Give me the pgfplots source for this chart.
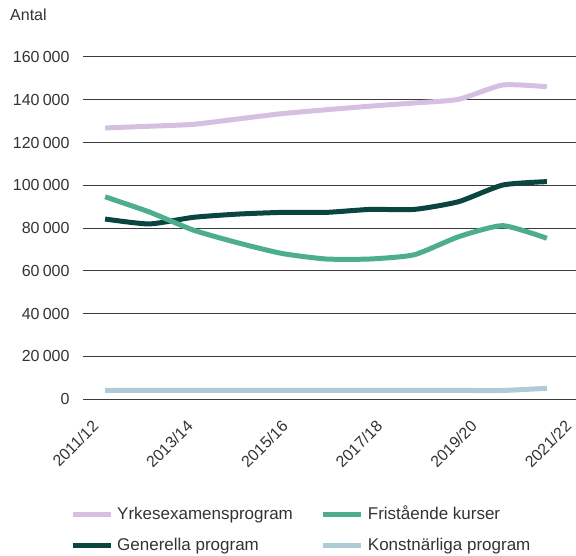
\documentclass[border=0pt]{standalone}
\usepackage{fontspec}
\setmainfont{Liberation Sans}
\usepackage{pgfplots}
\pgfplotsset{compat=1.18}

\definecolor{yrke}{HTML}{D5C0E1}
\definecolor{frist}{HTML}{4DAE8C}
\definecolor{gener}{HTML}{0A4540}
\definecolor{konst}{HTML}{AECCD7}
\definecolor{gridc}{HTML}{3C3C3C}
\definecolor{txt}{HTML}{333333}

\newcommand{\tickfont}{\fontsize{16bp}{19bp}\selectfont}
\newcommand{\legfont}{\fontsize{17bp}{20bp}\selectfont}
\newcommand{\ts}{\hspace{0.2em}}

\begin{document}
\begin{tikzpicture}
\begin{axis}[
    scale only axis,
    width=493bp, height=342bp,
    xmin=-0.5, xmax=10.66,
    ymin=0, ymax=160000,
    axis line style={draw=none},
    major tick length=0pt,
    ymajorgrids=true,
    grid style={gridc, line width=1bp},
    scaled y ticks=false,
    ytick={0,20000,40000,60000,80000,100000,120000,140000,160000},
    yticklabels={0,20\ts000,40\ts000,60\ts000,80\ts000,100\ts000,120\ts000,140\ts000,160\ts000},
    yticklabel style={font=\tickfont, text=txt, xshift=-10bp},
    xtick={-0.23,1.91,4.06,6.20,8.34,10.48},
    xticklabels={2011/12,2013/14,2015/16,2017/18,2019/20,2021/22},
    xticklabel style={font=\tickfont, text=txt, xshift=-20bp, yshift=-4bp,
        rotate=45, anchor=east, inner sep=0pt, yshift=-29bp},
    legend columns=2,
    transpose legend,
    legend cell align=left,
    legend style={draw=none, fill=none, inner sep=0pt, outer sep=0pt,
        font=\legfont, text=txt,
        at={(-0.026,-0.305)}, anchor=north west,
        row sep=8bp,
        nodes={inner sep=4bp, text height=12bp, text depth=3bp},
        /tikz/every even column/.append style={column sep=24bp}},
    legend image code/.code={\draw[#1, line width=5bp] (0bp,0bp) -- (38bp,0bp);},
    every axis plot/.append style={line width=5bp, smooth, tension=0.35, mark=none},
    clip=false,
]

% Yrkesexamensprogram
\addplot[yrke] coordinates {
    (0,126800)(1,127600)(2,128500)(3,131000)(4,133500)(5,135300)
    (6,137000)(7,138500)(8,140200)(9,146900)(10,146100)
};
% Generella program
\addplot[gener] coordinates {
    (0,84200)(1,81900)(2,85000)(3,86500)(4,87300)(5,87300)
    (6,88700)(7,88700)(8,92300)(9,100100)(10,101700)
};
% Fristaende kurser
\addplot[frist] coordinates {
    (0,94600)(1,87500)(2,79000)(3,73100)(4,68100)(5,65500)
    (6,65500)(7,67500)(8,75900)(9,81100)(10,75200)
};
% Konstnarliga program
\addplot[konst] coordinates {
    (0,4000)(1,4000)(2,4000)(3,4000)(4,4000)(5,4000)
    (6,4000)(7,4000)(8,4000)(9,4000)(10,5000)
};

\legend{Yrkesexamensprogram, Generella program, Fristående kurser, Konstnärliga program}

\node[font=\tickfont, text=txt, anchor=west, inner sep=0pt]
    at (rel axis cs:0,1) [xshift=-73bp, yshift=42bp] {Antal};
\end{axis}
\pgfresetboundingbox
\path[use as bounding box] (-83bp,-157bp) rectangle (493bp,399bp);
\end{tikzpicture}
\end{document}
